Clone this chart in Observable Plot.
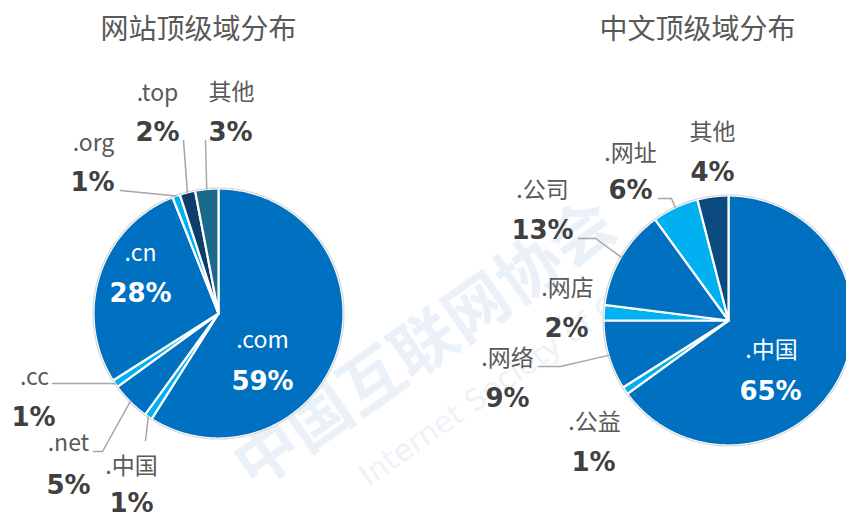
<!DOCTYPE html>
<html>
<head>
<meta charset="utf-8">
<script src="https://cdn.jsdelivr.net/npm/d3@7"></script>
<script src="https://cdn.jsdelivr.net/npm/@observablehq/plot@0.6"></script>
<style>
  html, body { margin: 0; padding: 0; background: #fff; }
  #chart svg { display: block; }
</style>
</head>
<body>
<div id="chart"></div>
<script>
// ---- data ----
const leftTitle = "网站顶级域分布";
const leftNames = [".com", ".中国", ".net", ".cc", ".cn", ".org", ".top", "其他"];
const leftValues = [59, 1, 5, 1, 28, 1, 2, 3];
const leftColors = ["#0070C0", "#00B0F0", "#0070C0", "#00B0F0", "#0070C0", "#00B0F0", "#0F3D6B", "#1B6A8C"];

const rightTitle = "中文顶级域分布";
const rightNames = [".中国", ".公益", ".网络", ".网店", ".公司", ".网址", "其他"];
const rightValues = [65, 1, 9, 2, 13, 6, 4];
const rightColors = ["#0070C0", "#00B0F0", "#0070C0", "#00B0F0", "#0070C0", "#00B0F0", "#0A4A7E"];

const watermarkCN = "中国互联网协会";
const watermarkEN = "Internet Society of China";

// ---- layout (positions only) ----
const W = 846, H = 517;
const pies = [
  {id: "L", cx: 218, cy: 313, r: 125, title: leftTitle, tx: 198, ty: 30,
   names: leftNames, values: leftValues, colors: leftColors,
   labels: [
     {n: [262, 340], p: [262, 381], inside: true},
     {n: [131, 466], p: [131, 503], leader: [[145, 440]]},
     {n: [68, 443], p: [68, 485], leader: [[93, 451], [102, 451]]},
     {n: [34, 377], p: [33, 417], leader: [[52, 383], [109, 383]]},
     {n: [140, 253], p: [140, 293], inside: true},
     {n: [93, 143], p: [92, 182], leader: [[120, 190]]},
     {n: [157, 93], p: [157, 132], leader: [[183, 140]]},
     {n: [231, 92], p: [230, 132], leader: [[205, 140]]}
   ]},
  {id: "R", cx: 728, cy: 320, r: 125, title: rightTitle, tx: 697, ty: 30,
   names: rightNames, values: rightValues, colors: rightColors,
   labels: [
     {n: [771, 350], p: [770, 391], inside: true},
     {n: [594, 422], p: [593, 462]},
     {n: [507, 358], p: [507, 398], leader: [[538, 366], [560, 366]]},
     {n: [567, 288], p: [566, 328]},
     {n: [542, 190], p: [542, 230], leader: [[578, 238], [595, 238]]},
     {n: [630, 153], p: [630, 190], leader: [[658, 198], [671, 198]]},
     {n: [712, 132], p: [712, 172]}
   ]}
];

// ---- geometry from data ----
const slicePts = [], borderPts = [], leaderPts = [], nameText = [], pctText = [], titles = [];
for (const pie of pies) {
  const arcs = d3.pie().sort(null).startAngle(0).endAngle(2 * Math.PI)(pie.values);
  const pt = (a, r) => [pie.cx + r * Math.sin(a), pie.cy - r * Math.cos(a)];
  arcs.forEach((a, i) => {
    const key = pie.id + i;
    const color = pie.colors[i];
    slicePts.push({key, color, x: pie.cx, y: pie.cy});
    const steps = Math.max(2, Math.ceil((a.endAngle - a.startAngle) / 0.01));
    for (let s = 0; s <= steps; s++) {
      const ang = a.startAngle + (a.endAngle - a.startAngle) * s / steps;
      const [x, y] = pt(ang, pie.r);
      slicePts.push({key, color, x, y});
    }
    const lab = pie.labels[i];
    const pct = Math.round(a.value) + "%";
    nameText.push({x: lab.n[0], y: lab.n[1], t: pie.names[i], inside: !!lab.inside});
    pctText.push({x: lab.p[0], y: lab.p[1], t: pct, inside: !!lab.inside});
    if (lab.leader) {
      const mid = (a.startAngle + a.endAngle) / 2;
      const [ex, ey] = pt(mid, pie.r);
      lab.leader.forEach(([x, y]) => leaderPts.push({key, x, y}));
      leaderPts.push({key, x: ex, y: ey});
    }
  });
  for (let s = 0; s < 360; s++) {
    const [x, y] = pt(s * Math.PI / 180, pie.r + 0.5);
    borderPts.push({key: pie.id, x, y});
  }
  titles.push({x: pie.tx, y: pie.ty, t: pie.title});
}

const font = "'Noto Sans CJK SC', 'Noto Sans', sans-serif";
const pctFont = "'DejaVu Sans', Verdana, sans-serif";

const chart = Plot.plot({
  width: W, height: H,
  margin: 0,
  x: {domain: [0, W], range: [0, W], axis: null},
  y: {domain: [0, H], range: [0, H], axis: null},
  color: {type: "identity"},
  style: {background: "#fff"},
  marks: [
    // faint watermark
    Plot.text([{x: 425, y: 345, t: watermarkCN}], {x: "x", y: "y", text: "t", rotate: -35,
      fontSize: 64, fontWeight: "bold", fill: "#EBF1F8", fontFamily: font}),
    Plot.text([{x: 515, y: 372, t: watermarkEN}], {x: "x", y: "y", text: "t", rotate: -35,
      fontSize: 30, fill: "#EDF2F8", fontFamily: pctFont}),
    Plot.line(slicePts, {x: "x", y: "y", z: "key", fill: "color", stroke: "#fff", strokeWidth: 2.2,
      strokeLinejoin: "round", curve: "linear-closed"}),
    Plot.line(borderPts, {x: "x", y: "y", z: "key", stroke: "#D6D6D6", strokeWidth: 1.2, fill: "none",
      curve: "linear-closed"}),
    Plot.line(leaderPts, {x: "x", y: "y", z: "key", stroke: "#A6A6A6", strokeWidth: 1.5}),
    Plot.text(titles, {x: "x", y: "y", text: "t", fontSize: 28, fill: "#595959", fontFamily: font,
      lineAnchor: "middle"}),
    Plot.text(nameText, {x: "x", y: "y", text: "t", fontSize: 23, fontFamily: font, lineAnchor: "middle",
      fill: d => d.inside ? "#FFFFFF" : "#595959"}),
    Plot.text(pctText, {x: "x", y: "y", text: "t", fontSize: 26, fontWeight: "bold", fontFamily: pctFont,
      lineAnchor: "middle", fill: d => d.inside ? "#FFFFFF" : "#404040"})
  ]
});
document.getElementById("chart").appendChild(chart);
</script>
</body>
</html>
